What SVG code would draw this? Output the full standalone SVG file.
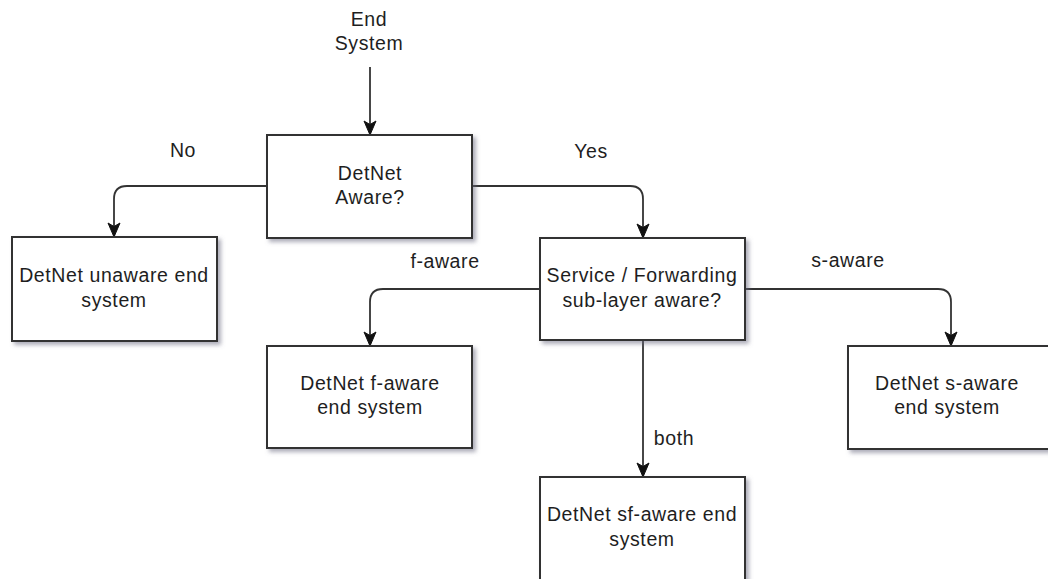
<svg xmlns="http://www.w3.org/2000/svg" width="1048" height="579" viewBox="0 0 1048 579">
  <style>
    .box { fill: #ffffff; stroke: #333333; stroke-width: 2; filter: url(#shadow); }
    .lbl { font-family: "Liberation Sans", Arial, sans-serif; font-size: 19.5px; letter-spacing: 0.6px; fill: #1e1e1e; text-anchor: middle; }
    .edge { fill: none; stroke: #333333; stroke-width: 1.8; marker-end: url(#arrow); }
  </style>
  <defs>
    <filter id="shadow" x="-10%" y="-10%" width="130%" height="140%">
      <feDropShadow dx="3" dy="3" stdDeviation="2" flood-color="#6a6a80" flood-opacity="0.55"/>
    </filter>
    <marker id="arrow" markerUnits="userSpaceOnUse" markerWidth="16" markerHeight="16" viewBox="0 0 16 16" refX="15" refY="8" orient="auto">
      <path d="M1,2 L15,8 L1,14 L4.5,8 Z" fill="#111111" stroke="#111111" stroke-width="1"/>
    </marker>
  </defs>

  <rect width="1048" height="579" fill="#ffffff"/>

  <!-- connectors -->
  <g id="connectors">
    <path class="edge" d="M370,67 V135"/>
    <path class="edge" d="M267,186 H127 Q114,186 114,199 V237"/>
    <path class="edge" d="M472,186 H630 Q643,186 643,199 V238"/>
    <path class="edge" d="M540,289 H383 Q370,289 370,302 V346"/>
    <path class="edge" d="M745,289 H938 Q951,289 951,302 V346"/>
    <path class="edge" d="M643,340 V477"/>
    <text class="lbl" x="183" y="157">No</text>
    <text class="lbl" x="591" y="158">Yes</text>
    <text class="lbl" x="445" y="268">f-aware</text>
    <text class="lbl" x="848" y="267">s-aware</text>
    <text class="lbl" x="674" y="445">both</text>
  </g>

  <!-- start label -->
  <g id="start">
    <text class="lbl" x="369" y="26">End</text>
    <text class="lbl" x="369" y="50">System</text>
  </g>

  <g id="detnet-aware">
    <rect class="box" x="267" y="135" width="205" height="103"/>
    <text class="lbl" x="370" y="180">DetNet</text>
    <text class="lbl" x="370" y="204">Aware?</text>
  </g>

  <g id="unaware">
    <rect class="box" x="12" y="237" width="205" height="104"/>
    <text class="lbl" x="114" y="282">DetNet unaware end</text>
    <text class="lbl" x="114" y="307">system</text>
  </g>

  <g id="sublayer">
    <rect class="box" x="540" y="238" width="205" height="102"/>
    <text class="lbl" x="642" y="282">Service / Forwarding</text>
    <text class="lbl" x="642" y="307">sub-layer aware?</text>
  </g>

  <g id="f-aware">
    <rect class="box" x="267" y="346" width="205" height="102"/>
    <text class="lbl" x="370" y="390">DetNet f-aware</text>
    <text class="lbl" x="370" y="414">end system</text>
  </g>

  <g id="s-aware">
    <rect class="box" x="848" y="346" width="205" height="103"/>
    <text class="lbl" x="947" y="390">DetNet s-aware</text>
    <text class="lbl" x="947" y="414">end system</text>
  </g>

  <g id="sf-aware">
    <rect class="box" x="540" y="477" width="205" height="106"/>
    <text class="lbl" x="642" y="521">DetNet sf-aware end</text>
    <text class="lbl" x="642" y="546">system</text>
  </g>
</svg>
